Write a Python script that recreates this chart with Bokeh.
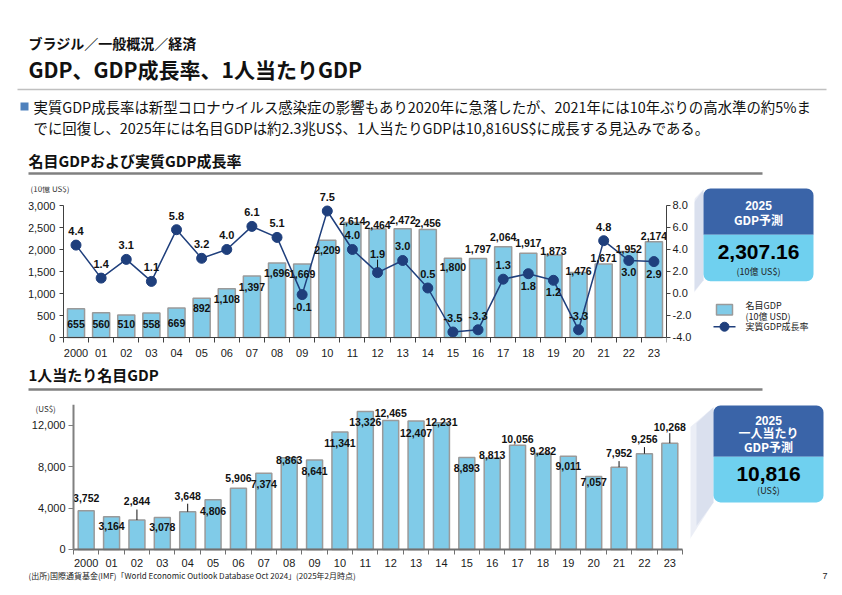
from bokeh.plotting import figure
from bokeh.layouts import column, row
from bokeh.models import Range1d, LinearAxis, FixedTicker, NumeralTickFormatter, Label
from bokeh.embed import file_html
from bokeh.resources import INLINE
from bokeh.core.properties import value

# ---------------- data ----------------
years = ["2000", "01", "02", "03", "04", "05", "06", "07", "08", "09", "10", "11",
         "12", "13", "14", "15", "16", "17", "18", "19", "20", "21", "22", "23"]
# nominal GDP, billion US$
nominal_gdp = [655, 560, 510, 558, 669, 892, 1108, 1397, 1696, 1669, 2209, 2614,
               2464, 2472, 2456, 1800, 1797, 2064, 1917, 1873, 1476, 1671, 1952, 2174]
# real GDP growth, %
real_growth = [4.4, 1.4, 3.1, 1.1, 5.8, 3.2, 4.0, 6.1, 5.1, -0.1, 7.5, 4.0,
               1.9, 3.0, 0.5, -3.5, -3.3, 1.3, 1.8, 1.2, -3.3, 4.8, 3.0, 2.9]
# nominal GDP per capita, US$
gdp_per_capita = [3752, 3164, 2844, 3078, 3648, 4806, 5906, 7374, 8863, 8641, 11341, 13326,
                  12465, 12407, 12231, 8893, 8813, 10056, 9282, 9011, 7057, 7952, 9256, 10268]
forecast_gdp_2025 = 2307.16
forecast_per_capita_2025 = 10816

# label placement (pixels above the mark; negative = below)
nominal_label_up = [-15, -11, -9, -11, -15, -10, -10, -10.5, -10.5, -9.5, -10, 1,
                    4.5, 9, 6, -9, 9, 9.5, 10, 4, 2, 6, 3, 5.5]
growth_label_up = [14, 14, 14, 14, 14, 14, 14, 14, 14, -12, 14, 14,
                   19, 14, 14, 14, 14, 14, -12, -12, 14, 14, -12, -12]
growth_leader_px = [0] * 12 + [8] + [0] * 11
percap_label_up = [13, -9, 19, -9.5, 16, -11, 10, -10.5, -2, -11, -11, -10.5,
                   7, -12, 1, -11, 3.5, 6, 2, -10, -6, 14, 15, 16]
percap_leader_px = [0, 0, 10.5, 0, 8, 0, 0, 0, 0, 0, 0, 0,
                    0, 0, 0, 0, 0, 0, 0, 0, 0, 6, 6.5, 10]

# ---------------- style ----------------
JP = "Noto Sans CJK JP"
LAT = "Liberation Sans"
BAR_FILL = "#80cbe8"
BAR_LINE = "#9a9a9a"
NAVY = "#1f3f7c"
PANEL_DARK = "#3a64a8"
PANEL_LIGHT = "#6fd0ef"
WEDGE = "#c6cee4"
AXIS = "#404040"

idx = list(range(len(years)))


def sheet(w, h):
    f = figure(width=w, height=h, x_range=Range1d(0, w), y_range=Range1d(h, 0),
               x_axis_type=None, y_axis_type=None, output_backend="svg",
               toolbar_location=None, min_border=0)
    f.outline_line_color = None
    f.background_fill_color = "white"
    f.border_fill_color = "white"
    return f


def put(f, x, y, s, size, bold=False, color="#111111", align="left", font=JP):
    f.text(x=[x], y=[y], text=[s], text_font=value(font), text_font_size=f"{size}px",
           text_font_style="bold" if bold else "normal", text_color=color,
           text_align=align, text_baseline="middle")


def style_axis(ax, color=AXIS, width=1):
    ax.major_label_text_font = LAT
    ax.major_label_text_font_size = "11px"
    ax.major_label_text_color = "#1a1a1a"
    ax.axis_line_color = color
    ax.axis_line_width = width
    ax.major_tick_line_color = color
    ax.minor_tick_line_color = None


def year_axis(color=AXIS, width=1, standoff=5):
    # category labels under each bar, tick marks between the bars; pinned at zero
    ax = LinearAxis(ticker=FixedTicker(ticks=idx, minor_ticks=[i - 0.5 for i in range(len(idx) + 1)]),
                    major_label_overrides={i: y for i, y in enumerate(years)},
                    bounds=(-0.5, len(idx) - 0.5), fixed_location=0)
    style_axis(ax, color, width)
    ax.major_tick_line_color = None
    ax.minor_tick_line_color = color
    ax.minor_tick_in = 0
    ax.minor_tick_out = 5
    ax.major_label_standoff = standoff
    return ax


# ---------------- header ----------------
head = sheet(842, 180)
put(head, 28, 42, "ブラジル／一般概況／経済", 14, bold=True)
put(head, 28, 68, "GDP、GDP成長率、1人当たりGDP", 21, bold=True)
head.line([17, 826], [89, 89], line_color="#c0c0c0", line_width=1.5)
head.quad(left=[20], right=[28], top=[102], bottom=[110], fill_color="#4f81bd", line_color=None)
put(head, 33, 106, "実質GDP成長率は新型コロナウイルス感染症の影響もあり2020年に急落したが、2021年には10年ぶりの高水準の約5%ま", 14.4)
put(head, 33, 127, "でに回復し、2025年には名目GDPは約2.3兆US$、1人当たりGDPは10,816US$に成長する見込みである。", 14.4)
put(head, 28, 160, "名目GDPおよび実質GDP成長率", 15, bold=True)
head.line([28, 762], [173, 173], line_color="#808080", line_width=2.5)

# ---------------- nominal GDP + growth ----------------
# plot area spans the page margin; value and category axes are pinned inside it
p1 = figure(width=694, height=182, x_range=Range1d(-1.8907, 23.5), y_range=Range1d(-568.2, 3432),
            x_axis_type=None, y_axis_type=None, output_backend="svg", toolbar_location=None,
            min_border_left=28, min_border_right=27, min_border_top=6, min_border_bottom=0)
p1.extra_y_ranges = {"growth": Range1d(-6.2727, 9.727)}
p1.outline_line_color = None
p1.border_fill_color = "white"

ya = LinearAxis(ticker=FixedTicker(ticks=[0, 500, 1000, 1500, 2000, 2500, 3000]),
                formatter=NumeralTickFormatter(format="0,0"), bounds=(0, 3000), fixed_location=-0.5)
style_axis(ya)
ya.major_tick_in = 0
ya.major_tick_out = 4
ya.major_label_standoff = 4
p1.add_layout(ya, "left")

ra = LinearAxis(y_range_name="growth", ticker=FixedTicker(ticks=[-4, -2, 0, 2, 4, 6, 8]),
                formatter=NumeralTickFormatter(format="0.0"), bounds=(-4, 8))
style_axis(ra)
ra.major_tick_in = 0
ra.major_tick_out = 4
ra.major_label_standoff = 2
p1.add_layout(ra, "right")
p1.add_layout(year_axis(), "below")

p1.vbar(x=idx, top=nominal_gdp, bottom=0, width=0.68, fill_color=BAR_FILL,
        line_color=BAR_LINE, line_width=1.5)
p1.line(idx, real_growth, y_range_name="growth", line_color=NAVY, line_width=1.5)
p1.scatter(idx, real_growth, y_range_name="growth", size=10, fill_color=NAVY, line_color=NAVY)

g_per_px = 12.0 / 132.0
lead_x = [i for i, L in zip(idx, growth_leader_px) if L]
lead_y0 = [v + 5 * g_per_px for v, L in zip(real_growth, growth_leader_px) if L]
lead_y1 = [v + (5 + L) * g_per_px for v, L in zip(real_growth, growth_leader_px) if L]
p1.segment(x0=lead_x, y0=lead_y0, x1=lead_x, y1=lead_y1, y_range_name="growth",
           line_color="#111111", line_width=1)

p1.text(x=idx, y=nominal_gdp, text=[f"{v:,}" for v in nominal_gdp],
        y_offset=[-u for u in nominal_label_up], text_font=value(LAT), text_font_size="10.5px",
        text_font_style="bold", text_color="#111111", text_align="center", text_baseline="middle")
p1.text(x=idx, y=real_growth, y_range_name="growth", text=[f"{v:.1f}" for v in real_growth],
        y_offset=[-u for u in growth_label_up], text_font=value(LAT), text_font_size="11px",
        text_font_style="bold", text_color="#111111", text_align="center", text_baseline="middle")
p1.add_layout(Label(x=-1.81, y=3386, text="(10億 US$)", text_font=JP, text_font_size="8px",
                    text_color="#333333", text_baseline="middle"))

# side panel: 2025 GDP forecast + legend
q1 = sheet(148, 182)
q1.patch([9, -30, -30, 9], [3, 45, 150, 97], fill_color=WEDGE, fill_alpha=0.35, line_color=None)
q1.patch([9, -10, -10, 9], [3, 30, 120, 97], fill_color=WEDGE, fill_alpha=0.45, line_color=None)
q1.quad(left=[9], right=[119], top=[2], bottom=[50], fill_color=PANEL_DARK, line_color=None,
        border_radius=(7, 7, 0, 0))
q1.quad(left=[9], right=[119], top=[50], bottom=[98], fill_color=PANEL_LIGHT, line_color=None,
        border_radius=(0, 0, 7, 7))
put(q1, 64, 20, "2025", 12, bold=True, color="white", align="center", font=LAT)
put(q1, 64, 34, "GDP予測", 12, bold=True, color="white", align="center")
put(q1, 64, 68, f"{forecast_gdp_2025:,.2f}", 21, bold=True, color="#000000", align="center", font=LAT)
put(q1, 64, 88, "(10億 US$)", 9, color="#222222", align="center")
q1.quad(left=[22], right=[38], top=[122], bottom=[133], fill_color=BAR_FILL,
        line_color=BAR_LINE, line_width=1.5)
q1.line([19, 41], [145, 145], line_color=NAVY, line_width=1.5)
q1.scatter([30], [145], size=9, fill_color=NAVY, line_color=NAVY)
put(q1, 51, 123, "名目GDP", 9, color="#222222")
put(q1, 51, 134, "(10億 USD)", 9, color="#222222")
put(q1, 51, 145, "実質GDP成長率", 9, color="#222222")

# ---------------- per-capita section header ----------------
mid = sheet(842, 30)
put(mid, 28, 12, "1人当たり名目GDP", 15, bold=True)
mid.line([28, 762], [27, 27], line_color="#808080", line_width=2.5)

# ---------------- GDP per capita ----------------
p2 = figure(width=690, height=178, x_range=Range1d(-2.2734, 23.8153), y_range=Range1d(-2027.6, 14000),
            x_axis_type=None, y_axis_type=None, output_backend="svg", toolbar_location=None,
            min_border_left=28, min_border_right=0, min_border_top=12, min_border_bottom=0)
p2.outline_line_color = None
p2.border_fill_color = "white"

ya2 = LinearAxis(ticker=FixedTicker(ticks=[0, 4000, 8000, 12000]),
                 formatter=NumeralTickFormatter(format="0,0"), bounds=(0, 14000), fixed_location=-0.5)
style_axis(ya2, "#808080", 2)
ya2.major_tick_in = 0
ya2.major_tick_out = 5
ya2.major_label_standoff = 3
p2.add_layout(ya2, "left")
p2.add_layout(year_axis("#707070", 2, 4), "below")

p2.vbar(x=idx, top=gdp_per_capita, bottom=0, width=0.63, fill_color=BAR_FILL,
        line_color=BAR_LINE, line_width=1.5)

u_per_px = 14000 / 145.0
lx = [i for i, L in zip(idx, percap_leader_px) if L]
ly0 = [v for v, L in zip(gdp_per_capita, percap_leader_px) if L]
ly1 = [v + L * u_per_px for v, L in zip(gdp_per_capita, percap_leader_px) if L]
p2.segment(x0=lx, y0=ly0, x1=lx, y1=ly1, line_color="#111111", line_width=1)
p2.text(x=idx, y=gdp_per_capita, text=[f"{v:,}" for v in gdp_per_capita],
        y_offset=[-u for u in percap_label_up], text_font=value(LAT), text_font_size="10.5px",
        text_font_style="bold", text_color="#111111", text_align="center", text_baseline="middle")
p2.add_layout(Label(x=-1.9975, y=13614, text="(US$)", text_font=JP, text_font_size="8px",
                    text_color="#333333", text_baseline="middle"))

q2 = sheet(152, 178)
q2.patch([23, -10, -10, 23], [3, 33, 160, 105], fill_color=WEDGE, fill_alpha=0.35, line_color=None)
q2.patch([23, 6, 6, 23], [3, 20, 130, 105], fill_color=WEDGE, fill_alpha=0.45, line_color=None)
q2.quad(left=[23], right=[133], top=[1], bottom=[56], fill_color=PANEL_DARK, line_color=None,
        border_radius=(7, 7, 0, 0))
q2.quad(left=[23], right=[133], top=[56], bottom=[105], fill_color=PANEL_LIGHT, line_color=None,
        border_radius=(0, 0, 7, 7))
put(q2, 78, 17, "2025", 12, bold=True, color="white", align="center", font=LAT)
put(q2, 78, 30, "一人当たり", 12, bold=True, color="white", align="center")
put(q2, 78, 45, "GDP予測", 12, bold=True, color="white", align="center")
put(q2, 78, 75, f"{forecast_per_capita_2025:,}", 21, bold=True, color="#000000", align="center", font=LAT)
put(q2, 78, 92, "(US$)", 9, color="#222222", align="center")

# ---------------- footer ----------------
foot = sheet(842, 25)
put(foot, 28, 5, "(出所)国際通貨基金(IMF)「World Economic Outlook Database Oct 2024」(2025年2月時点)", 8,
    color="#222222")
put(foot, 822, 5, "7", 9, color="#222222", font=LAT)

page = column(head, row(p1, q1), mid, row(p2, q2), foot)
open("out.html", "w").write(file_html(page, INLINE))
